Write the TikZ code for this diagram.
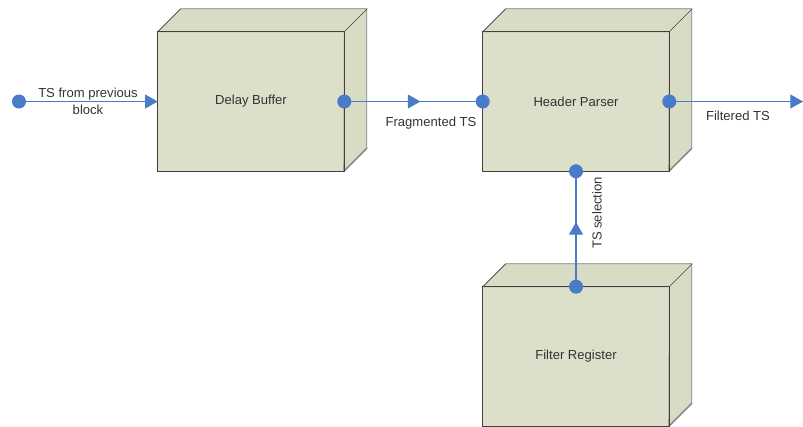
\documentclass[tikz,border=0pt]{standalone}
\usepackage{fontspec}
\setmainfont{Liberation Sans}
\usetikzlibrary{arrows.meta,decorations.markings}

\pgfdeclarelayer{front}
\pgfsetlayers{main,front}

\definecolor{boxfill}{HTML}{DCE0CA}
\definecolor{boxside}{HTML}{D8DCC4}
\definecolor{wire}{HTML}{4A7BC8}

\tikzset{
	block/.style={fill=boxfill, minimum width=139.5pt, minimum height=104.25pt, inner sep=0pt, text=black!80},
	face/.style={draw=black!50, fill=boxside},
	port/.style={circle, fill=wire, inner sep=0pt, minimum size=10.5pt},
	wireline/.style={wire, line width=.8pt},
	tip/.style={decoration={markings, mark=at position #1 with {\arrow{Triangle[length=9.5pt,width=10.5pt]}}}, postaction={decorate}},
	lbl/.style={text=black!80, align=center, inner sep=0pt}
}

% top and right faces of a block
\newcommand{\boxfaces}[1]{%
	\filldraw[face] (#1.north west) -- ++(23,-23) -- ++(186,0) -- ++(0,139) -- ++(-23,23) -- (#1.north east) -- cycle;
	\draw[black!75] (#1.north west) -- ++(23,-23) (#1.north east) -- ++(23,-23) (#1.south east) -- ++(23,-23);
	\draw[black!75] (#1.north west) rectangle (#1.south east);
}

\begin{document}
\begin{tikzpicture}[x=.75pt,y=-.75pt,font=\fontsize{9.8}{12}\selectfont]
	\useasboundingbox (0,0) rectangle (803,426);

	% blocks
	\node[block] (delay) at (251,101.5) {Delay Buffer};
	\node[block] (parser) at (576,101.5) {Header Parser};
	\node[block] (filter) at (576,356.5) {Filter Register};
	\boxfaces{delay}
	\boxfaces{parser}
	\boxfaces{filter}

	% ports
	\coordinate (out) at (803,101.5);
	\begin{pgfonlayer}{front}
	\node[port] (src) at (19,101.5) {};
	\node[port] (delayout) at (delay.east) {};
	\node[port] (parserin) at (parser.west) {};
	\node[port] (parserout) at (parser.east) {};
	\node[port] (parsersel) at (parser.south) {};
	\node[port] (filterout) at (filter.north) {};
	\end{pgfonlayer}

	% connectors
	\draw[wireline,tip=1] (src.center) -- (delay.west);
	\draw[wireline,tip=.55] (delayout.center) -- (parserin.center);
	\draw[wireline,tip=1] (parserout.center) -- (out);
	\draw[wireline,tip=.56] (filterout.center) -- (parsersel.center);

	% labels
	\node[lbl] (l1) at (88,101) {TS from previous\\[1pt]block};
	\node[lbl] (l2) at (431,123) {Fragmented TS};
	\node[lbl] (l3) at (738,116) {Filtered TS};
	\node[lbl,rotate=90] (l4) at (597,213) {TS selection};
\end{tikzpicture}
\end{document}
